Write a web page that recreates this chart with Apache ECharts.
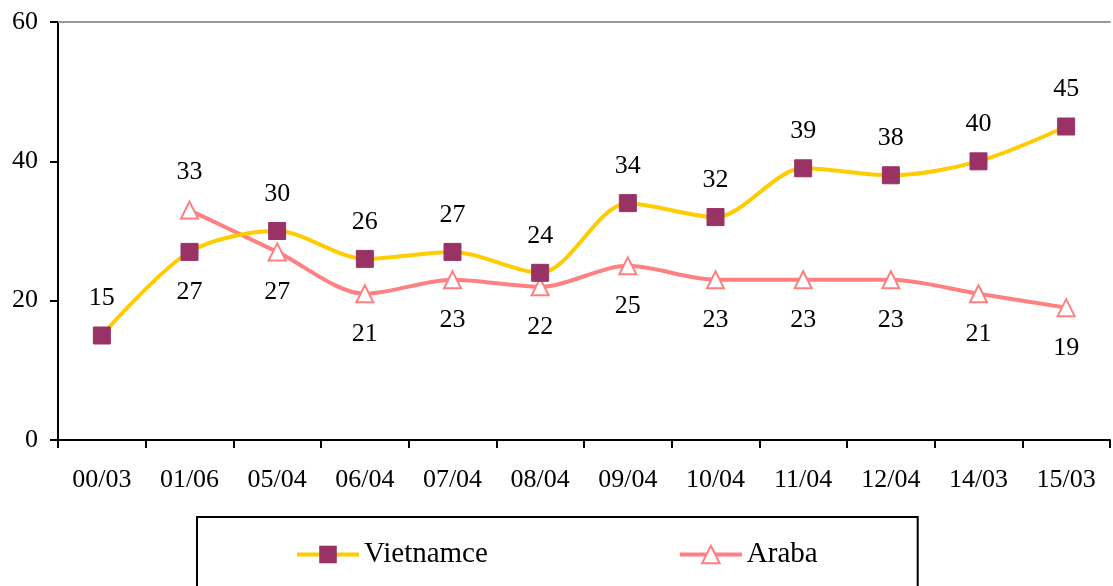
<!DOCTYPE html>
<html><head><meta charset="utf-8">
<script src="https://cdn.jsdelivr.net/npm/echarts@6/dist/echarts.min.js"></script>
<style>html,body{margin:0;padding:0;background:#fff}#c{width:1113px;height:586px}</style>
</head><body><div id="c"></div>
<script>
var categories = ['00/03','01/06','05/04','06/04','07/04','08/04','09/04','10/04','11/04','12/04','14/03','15/03'];
var vietnamce = [15,27,30,26,27,24,34,32,39,38,40,45];
var araba = [null,33,27,21,23,22,25,23,23,23,21,19];
var vietLabelPos = ['top','bottom','top','top','top','top','top','top','top','top','top','top'];
var arabaLabelPos = ['bottom','top','bottom','bottom','bottom','bottom','bottom','bottom','bottom','bottom','bottom','bottom'];
var yTicks = [0,20,40,60];

var font = 'Liberation Serif';
var chart = echarts.init(document.getElementById('c'));
function mk(vals, pos){
  return vals.map(function(v,i){
    return {value:v,label:{position:pos[i],distance:pos[i]==='top'?15:18}};
  });
}
chart.setOption({
  animation:false,
  textStyle:{fontFamily:font,color:'#000'},
  grid:{left:58,right:3,top:22,bottom:146},
  legend:{
    left:197, top:517,
    padding:[23,100,40,98],
    borderColor:'#000', borderWidth:2,
    itemGap:190, itemWidth:62, itemHeight:22,
    lineStyle:{width:'inherit'},
    textStyle:{fontFamily:font,fontSize:29,color:'#000'},
    data:['Vietnamce','Araba']
  },
  xAxis:[{
    type:'category', data:categories, boundaryGap:true,
    axisLine:{lineStyle:{color:'#000',width:2}},
    axisTick:{show:true,length:8,lineStyle:{color:'#000',width:2},alignWithLabel:false},
    axisLabel:{fontFamily:font,fontSize:26,color:'#000',margin:27,interval:0},
    splitLine:{show:false}
  },{
    type:'category', data:categories, position:'top',
    axisLine:{show:true,lineStyle:{color:'#999',width:2}},
    axisTick:{show:false}, axisLabel:{show:false}
  }],
  yAxis:{
    type:'value', min:yTicks[0], max:yTicks[yTicks.length-1], interval:20,
    axisLine:{show:true,lineStyle:{color:'#000',width:2}},
    axisTick:{show:true,length:8,lineStyle:{color:'#000',width:2}},
    axisLabel:{fontFamily:font,fontSize:26,color:'#000',margin:20},
    splitLine:{show:false}
  },
  series:[{
    name:'Vietnamce', type:'line', smooth:0.3,
    data:mk(vietnamce,vietLabelPos),
    symbol:'rect', symbolSize:17,
    lineStyle:{color:'#FFCC00',width:4},
    itemStyle:{color:'#993366',borderColor:'#993366'},
    label:{show:true,fontFamily:font,fontSize:26,color:'#000'},
    z:3
  },{
    name:'Araba', type:'line', smooth:0.3, connectNulls:false,
    data:mk(araba,arabaLabelPos),
    symbol:'triangle', symbolSize:17,
    lineStyle:{color:'#FF8080',width:4},
    itemStyle:{color:'#fff',borderColor:'#FF8080',borderWidth:2},
    label:{show:true,fontFamily:font,fontSize:26,color:'#000'},
    z:2
  }]
});
</script></body></html>
